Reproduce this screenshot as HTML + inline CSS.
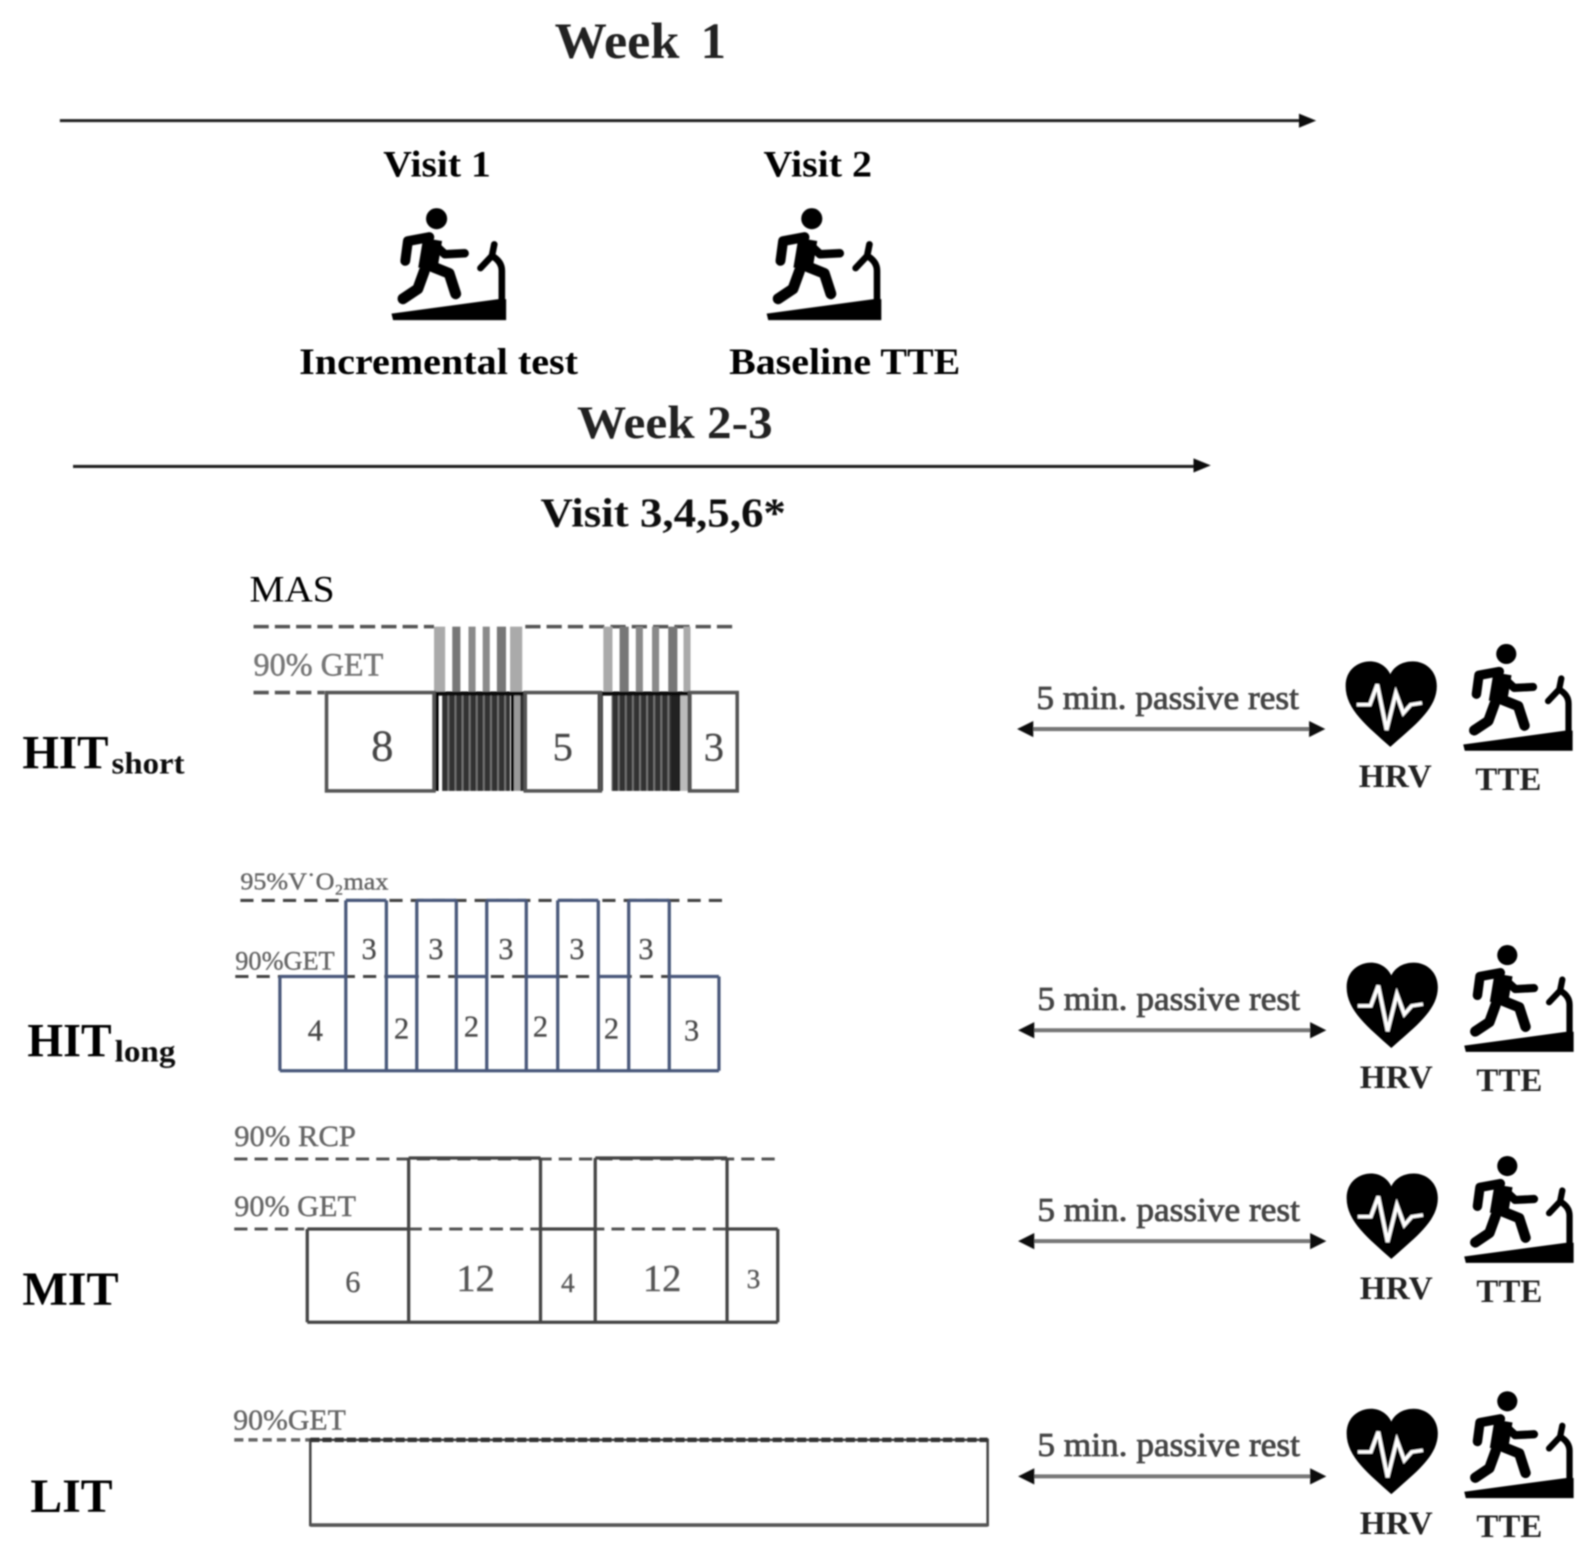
<!DOCTYPE html>
<html><head><meta charset="utf-8">
<style>
html,body{margin:0;padding:0;background:#fff;width:1590px;height:1558px;overflow:hidden}
svg{display:block}
text{font-family:"Liberation Serif",serif}
.b{font-weight:bold}
.rest{font-size:33px;fill:#444;stroke:#444;stroke-width:.8}
.hd{font-size:37px;font-weight:bold;fill:#000}
.g{stroke:#666;stroke-width:.4}
</style></head><body>
<svg width="1590" height="1558" viewBox="0 0 1568 1536.5" xmlns="http://www.w3.org/2000/svg">
<defs>
<filter id="bl" x="-2%" y="-2%" width="104%" height="104%"><feGaussianBlur stdDeviation="0.9"/></filter>
<pattern id="lo" patternUnits="userSpaceOnUse" x="436" y="0" width="7" height="10"><rect width="5.5" height="10" fill="#333"/><rect x="5.5" width="1.5" height="10" fill="#777"/></pattern>
<g id="tm">
<circle cx="197" cy="82" r="32"/>
<path d="M185 145 L170 235" stroke="#000" stroke-width="58" fill="none"/>
<path d="M175 138 L110 150 L102 210" stroke="#000" stroke-width="30" fill="none" stroke-linecap="round" stroke-linejoin="round"/>
<path d="M195 165 L222 190 L282 187" stroke="#000" stroke-width="26" fill="none" stroke-linecap="round" stroke-linejoin="round"/>
<path d="M160 240 L140 295 L95 325" stroke="#000" stroke-width="33" fill="none" stroke-linecap="round" stroke-linejoin="round"/>
<path d="M178 225 L235 248 L255 310" stroke="#000" stroke-width="33" fill="none" stroke-linecap="round" stroke-linejoin="round"/>
<path d="M60 370 L385 326 L408 326 L408 390 L65 390 Z"/>
<path d="M395 340 V240 Q395 212 365 195 L330 232 M365 195 L372 160" stroke="#000" stroke-width="20" fill="none" stroke-linecap="round" stroke-linejoin="round"/>
</g>
<g id="ht">
<path d="M1040 350 C980 290 920 240 920 170 C920 120 955 97 985 97 C1010 97 1030 112 1040 135 C1050 112 1072 97 1100 97 C1135 97 1165 125 1165 170 C1165 240 1100 290 1040 350 Z"/>
<path d="M950 225 L985 225 L1005 165 L1030 300 L1055 190 L1075 250 L1095 225 L1125 220" fill="none" stroke="#fff" stroke-width="10"/>
</g>
<g id="row">
<use href="#ht" transform="translate(989.4,620) scale(.367,.333)"/>
<use href="#tm" transform="translate(1424.4,619.5) scale(.31)"/>
<line x1="1015" y1="719" x2="1295" y2="719" stroke="#777" stroke-width="4"/>
<path d="M1003 719 L1019 711 V727 Z M1307 719 L1291 711 V727 Z" fill="#111"/>
<text x="1022" y="699" class="rest" textLength="259" lengthAdjust="spacingAndGlyphs">5 min. passive rest</text>
<text x="1340" y="776" class="b" font-size="32" fill="#222" textLength="72" lengthAdjust="spacingAndGlyphs">HRV</text>
<text x="1455" y="779" class="b" font-size="32" fill="#222" textLength="65" lengthAdjust="spacingAndGlyphs">TTE</text>
</g>
</defs>
<g filter="url(#bl)">
<!-- top -->
<text x="547" y="57" class="b" font-size="50" fill="#222" textLength="123" lengthAdjust="spacingAndGlyphs">Week</text>
<text x="691" y="57" class="b" font-size="50" fill="#222">1</text>
<line x1="59" y1="119" x2="1285" y2="119" stroke="#222" stroke-width="3"/>
<path d="M1298 119 L1281 112 V126 Z" fill="#111"/>
<text x="378" y="174" class="hd" textLength="106" lengthAdjust="spacingAndGlyphs">Visit 1</text>
<text x="753" y="174" class="hd" textLength="107" lengthAdjust="spacingAndGlyphs">Visit 2</text>
<use href="#tm" transform="translate(366.5,189) scale(.325)"/>
<use href="#tm" transform="translate(736.5,189) scale(.325)"/>
<text x="295" y="369" class="hd" textLength="275" lengthAdjust="spacingAndGlyphs">Incremental test</text>
<text x="719" y="369" class="hd" textLength="228" lengthAdjust="spacingAndGlyphs">Baseline TTE</text>
<text x="569" y="432" class="b" font-size="46" fill="#222" textLength="193" lengthAdjust="spacingAndGlyphs">Week 2-3</text>
<line x1="72" y1="460" x2="1180" y2="460" stroke="#222" stroke-width="3"/>
<path d="M1194 459 L1177 452 V466 Z" fill="#111"/>
<text x="533" y="519" class="b" font-size="41" fill="#111" textLength="242" lengthAdjust="spacingAndGlyphs">Visit 3,4,5,6*</text>

<!-- HIT short -->
<text x="22" y="758" class="b" font-size="47" fill="#000" textLength="85" lengthAdjust="spacingAndGlyphs">HIT</text>
<text x="110" y="763" class="b" font-size="30" fill="#111" textLength="72" lengthAdjust="spacingAndGlyphs">short</text>
<text x="246" y="593" font-size="37" fill="#000" textLength="84" lengthAdjust="spacingAndGlyphs">MAS</text>
<text x="250" y="666" font-size="32" fill="#777" class="g" textLength="128" lengthAdjust="spacingAndGlyphs">90% GET</text>
<line x1="250" y1="618" x2="428" y2="618" stroke="#555" stroke-width="3.5" stroke-dasharray="15 6"/>
<line x1="518" y1="618" x2="728" y2="618" stroke="#555" stroke-width="3.5" stroke-dasharray="15 6"/>
<line x1="250" y1="683" x2="320" y2="683" stroke="#555" stroke-width="3.5" stroke-dasharray="15 6"/>
<g fill="#8a8a8a">
<rect x="428" y="618" width="11" height="65" fill="#aaa"/><rect x="446" y="618" width="8" height="65" fill="#777"/><rect x="462" y="618" width="7" height="65"/><rect x="476" y="618" width="7" height="65"/><rect x="490" y="618" width="9" height="65" fill="#777"/><rect x="503" y="618" width="12" height="65" fill="#aaa"/>
<rect x="595" y="618" width="9" height="65" fill="#aaa"/><rect x="611" y="618" width="9" height="65" fill="#777"/><rect x="627" y="618" width="7" height="65"/><rect x="643" y="618" width="7" height="65"/><rect x="659" y="618" width="9" height="65" fill="#777"/><rect x="674" y="618" width="7" height="65" fill="#aaa"/>
</g>
<rect x="436" y="685" width="67" height="95" fill="url(#lo)"/>
<rect x="603" y="685" width="60" height="95" fill="url(#lo)"/>
<rect x="504" y="685" width="3" height="95" fill="#000"/><rect x="507" y="685" width="6" height="95" fill="#999"/><rect x="513" y="685" width="6" height="95" fill="#333"/>
<rect x="662" y="685" width="9" height="95" fill="#222"/><rect x="671" y="685" width="7" height="95" fill="#bbb"/><rect x="678" y="685" width="4" height="95" fill="#111"/>
<path d="M428 684 H518 M590 684 H680" stroke="#111" stroke-width="4"/>
<path d="M430 684 V780 M592 684 V780" stroke="#000" stroke-width="5"/>
<g fill="none" stroke="#555" stroke-width="3.5">
<rect x="322" y="683" width="106" height="97"/>
<rect x="518" y="683" width="74" height="97"/>
<rect x="680" y="683" width="47" height="97"/>
</g>
<text x="377" y="750" font-size="44" fill="#444" class="g" text-anchor="middle">8</text>
<text x="555" y="750" font-size="40" fill="#444" class="g" text-anchor="middle">5</text>
<text x="704" y="750" font-size="40" fill="#444" class="g" text-anchor="middle">3</text>

<!-- HIT long -->
<text x="27" y="1042" class="b" font-size="47" fill="#000" textLength="83" lengthAdjust="spacingAndGlyphs">HIT</text>
<text x="113" y="1047" class="b" font-size="30" fill="#111" textLength="60" lengthAdjust="spacingAndGlyphs">long</text>
<text x="237" y="877" font-size="24" fill="#666" class="g" textLength="146" lengthAdjust="spacingAndGlyphs">95%V˙O₂max</text>
<text x="232" y="956" font-size="26" fill="#666" class="g" textLength="98" lengthAdjust="spacingAndGlyphs">90%GET</text>
<line x1="237" y1="888" x2="714" y2="888" stroke="#444" stroke-width="3" stroke-dasharray="13 8"/>
<line x1="232" y1="963" x2="709" y2="963" stroke="#444" stroke-width="3" stroke-dasharray="13 8"/>
<path d="M276 963 H341 M381 963 H411 M450 963 H480 M519 963 H550 M590 963 H620 M660 963 H709 M341 888 H381 M411 888 H450 M480 888 H519 M550 888 H590 M620 888 H660 M276 1056 H709 M276 963 V1056 M341 888 V1056 M381 888 V1056 M411 888 V1056 M450 888 V1056 M480 888 V1056 M519 888 V1056 M550 888 V1056 M590 888 V1056 M620 888 V1056 M660 888 V1056 M709 963 V1056" fill="none" stroke="#48587a" stroke-width="3.2"/>
<g font-size="30" fill="#444" class="g" text-anchor="middle">
<text x="311" y="1026">4</text><text x="364" y="946">3</text><text x="396" y="1024">2</text><text x="430" y="946">3</text><text x="465" y="1022">2</text><text x="499" y="946">3</text><text x="533" y="1022">2</text><text x="569" y="946">3</text><text x="603" y="1024">2</text><text x="637" y="946">3</text><text x="682" y="1026">3</text>
</g>

<!-- MIT -->
<text x="22" y="1287" class="b" font-size="47" fill="#000" textLength="95" lengthAdjust="spacingAndGlyphs">MIT</text>
<text x="231" y="1130" font-size="29" fill="#666" class="g" textLength="120" lengthAdjust="spacingAndGlyphs">90% RCP</text>
<text x="231" y="1199" font-size="29" fill="#666" class="g" textLength="120" lengthAdjust="spacingAndGlyphs">90% GET</text>
<line x1="231" y1="1143" x2="768" y2="1143" stroke="#555" stroke-width="3" stroke-dasharray="13 7"/>
<line x1="231" y1="1212" x2="300" y2="1212" stroke="#555" stroke-width="3" stroke-dasharray="13 7"/>
<line x1="403" y1="1212" x2="717" y2="1212" stroke="#555" stroke-width="3" stroke-dasharray="13 7"/>
<path d="M303 1212 H403 M533 1212 H587 M717 1212 H767 M403 1142 H533 M587 1142 H717 M303 1304 H767 M303 1212 V1304 M403 1142 V1304 M533 1142 V1304 M587 1142 V1304 M717 1142 V1304 M767 1212 V1304" fill="none" stroke="#444" stroke-width="3.2"/>
<g fill="#555" class="g" text-anchor="middle">
<text x="348" y="1274" font-size="30">6</text><text x="469" y="1273" font-size="38">12</text><text x="560" y="1274" font-size="27">4</text><text x="653" y="1273" font-size="38">12</text><text x="743" y="1270" font-size="27">3</text>
</g>

<!-- LIT -->
<text x="30" y="1491" class="b" font-size="47" fill="#000" textLength="81" lengthAdjust="spacingAndGlyphs">LIT</text>
<text x="230" y="1410" font-size="28" fill="#666" class="g" textLength="111" lengthAdjust="spacingAndGlyphs">90%GET</text>
<line x1="231" y1="1420" x2="306" y2="1420" stroke="#666" stroke-width="3.5" stroke-dasharray="9 5"/>
<rect x="306" y="1420" width="668" height="84" fill="none" stroke="#444" stroke-width="2.5"/>
<line x1="306" y1="1504" x2="974" y2="1504" stroke="#555" stroke-width="3.5"/>
<line x1="306" y1="1420" x2="974" y2="1420" stroke="#333" stroke-width="4.5" stroke-dasharray="9 3"/>

<!-- rest rows -->
<use href="#row"/>
<use href="#row" transform="translate(1,297)"/>
<use href="#row" transform="translate(1,505)"/>
<use href="#row" transform="translate(1,737)"/>
</g>
</svg>
</body></html>
